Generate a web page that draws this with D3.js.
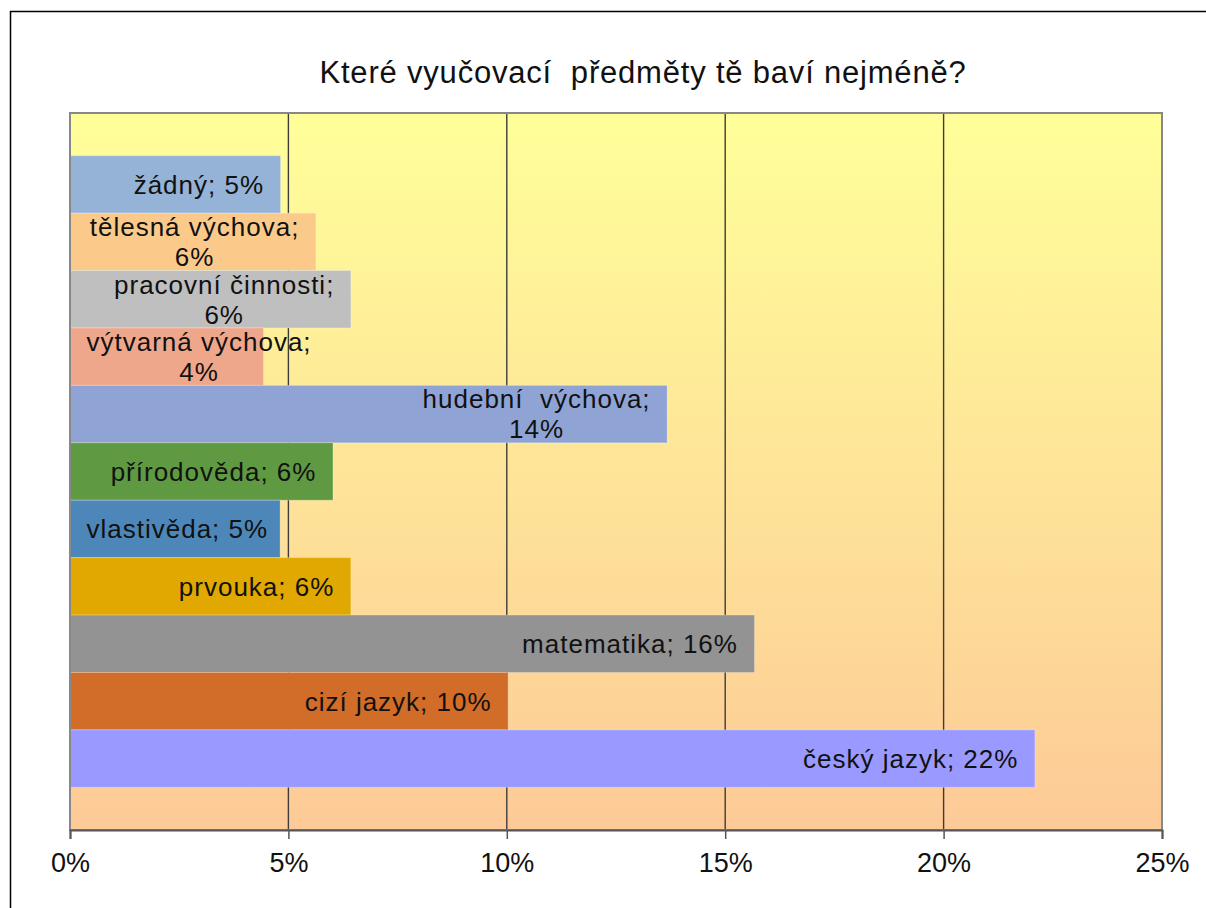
<!DOCTYPE html>
<html>
<head>
<meta charset="utf-8">
<script src="https://cdn.jsdelivr.net/npm/d3@7"></script>
<style>
  body { margin: 0; background: #fff; }
  text { font-family: "Liberation Sans", Arial, sans-serif; fill: #111; }
</style>
</head>
<body>
<div id="chart"></div>
<script>
// categories top -> bottom
var subjects = ["žádný", "tělesná výchova", "pracovní činnosti", "výtvarná výchova", "hudební výchova",
                "přírodověda", "vlastivěda", "prvouka", "matematika", "cizí jazyk", "český jazyk"]
var values = [4.82, 5.63, 6.43, 4.43, 13.67, 6.02, 4.81, 6.43, 15.67, 10.03, 22.09]
var valueLabels = ["5%", "6%", "6%", "4%", "14%", "6%", "5%", "6%", "16%", "10%", "22%"]
// how the label wraps in the original
var labelLines = [
    ["žádný; 5%"],
    ["tělesná výchova;", "6%"],
    ["pracovní činnosti;", "6%"],
    ["výtvarná výchova;", "4%"],
    ["hudební  výchova;", "14%"],
    ["přírodověda; 6%"],
    ["vlastivěda; 5%"],
    ["prvouka; 6%"],
    ["matematika; 16%"],
    ["cizí jazyk; 10%"],
    ["český jazyk; 22%"]
]
var colors = ["#95b3d7", "#fbca8b", "#bfbfbf", "#eea78b", "#8fa4d5", "#5f9a42",
              "#4d87ba", "#e0a800", "#939393", "#d16c29", "#9999ff"]
var ticks = [0, 5, 10, 15, 20, 25]
var title = "Které vyučovací  předměty tě baví nejméně?"

var width = 1206, height = 908
var plotLeft = 70, plotRight = 1162, plotTop = 113, plotBottom = 830

var svg = d3.select("#chart").append("svg")
    .attr("width", width)
    .attr("height", height)

// outer frame (runs off the right / bottom edge like the original)
svg.append("rect")
    .attr("x", 10.5).attr("y", 11.5)
    .attr("width", 1210).attr("height", 910)
    .attr("fill", "none").attr("stroke", "#000").attr("stroke-width", 1.5)

var defs = svg.append("defs")
var grad = defs.append("linearGradient").attr("id", "bg")
    .attr("x1", 0).attr("y1", 0).attr("x2", 0).attr("y2", 1)
grad.append("stop").attr("offset", "0%").attr("stop-color", "#ffff99")
grad.append("stop").attr("offset", "100%").attr("stop-color", "#fdca97")

var x = d3.scaleLinear().domain([0, 25]).range([plotLeft, plotRight])
var y = d3.scaleBand().domain(subjects).range([plotTop, plotBottom]).paddingInner(0).paddingOuter(0.744)

svg.append("rect")
    .attr("x", plotLeft).attr("y", plotTop)
    .attr("width", plotRight - plotLeft).attr("height", plotBottom - plotTop)
    .attr("fill", "url(#bg)")

// gridlines
svg.append("g").selectAll("line")
    .data(ticks.slice(1, -1)).enter()
    .append("line")
    .attr("x1", function(d){ return x(d); })
    .attr("x2", function(d){ return x(d); })
    .attr("y1", plotTop).attr("y2", plotBottom)
    .attr("stroke", "#3c3c3c").attr("stroke-width", 1.4)

// bars
svg.append("g").selectAll("rect")
    .data(subjects).enter()
    .append("rect")
    .attr("x", x(0))
    .attr("y", function(d){ return y(d); })
    .attr("width", function(d, i){ return x(values[i]) - x(0); })
    .attr("height", y.bandwidth())
    .attr("fill", function(d, i){ return colors[i]; })
    .attr("stroke", "rgba(255,255,255,0.25)")
    .attr("stroke-width", 1)

// plot frame
svg.append("rect")
    .attr("x", plotLeft).attr("y", plotTop)
    .attr("width", plotRight - plotLeft).attr("height", plotBottom - plotTop)
    .attr("fill", "none").attr("stroke", "#888").attr("stroke-width", 2)

// x axis
var axis = svg.append("g")
    .attr("transform", "translate(0," + plotBottom + ")")
    .call(d3.axisBottom(x).tickValues(ticks).tickSize(9).tickPadding(14)
        .tickFormat(function(d){ return d + "%"; }))
axis.select(".domain").attr("stroke", "#555").attr("stroke-width", 2)
axis.selectAll(".tick line").attr("stroke", "#555").attr("stroke-width", 1.5)
axis.selectAll(".tick text")
    .style("font-family", "'Liberation Sans', Arial, sans-serif")
    .style("font-size", "27px")
    .attr("fill", "#111")

// data labels, right aligned inside the bar end
var fs = 26, lineH = 30, pad = 17
var labels = svg.append("g").style("font-size", fs + "px").style("letter-spacing", "1px")
subjects.forEach(function(s, i){
    var lines = labelLines[i]
    var cy = y(s) + y.bandwidth() / 2
    var t = labels.append("text").attr("text-anchor", "middle").style("white-space", "pre")
    lines.forEach(function(l, j){
        t.append("tspan").attr("x", 0)
            .attr("y", cy + (j - (lines.length - 1) / 2) * lineH + fs * 0.36)
            .text(l)
    })
    var w = t.node().getBBox().width - 1
    var cx = x(values[i]) - pad - w / 2
    if (cx - w / 2 < plotLeft + pad) cx = plotLeft + pad + w / 2
    t.selectAll("tspan").attr("x", cx)
})

svg.append("text")
    .attr("x", 643).attr("y", 83)
    .attr("text-anchor", "middle")
    .style("font-size", "31px")
    .style("letter-spacing", "0.8px")
    .style("white-space", "pre")
    .text(title)
</script>
</body>
</html>
